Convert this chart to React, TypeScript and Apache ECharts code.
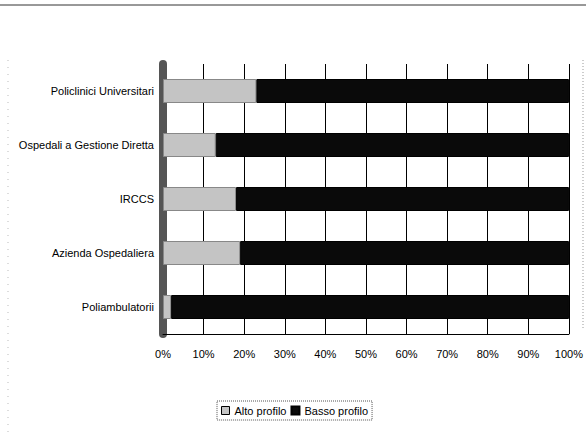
import React, { useEffect, useRef } from "react";
import * as echarts from "echarts";

const categories = ["Poliambulatorii", "Azienda Ospedaliera", "IRCCS", "Ospedali a Gestione Diretta", "Policlinici Universitari"];
const altoProfilo = [2, 19, 18, 13, 23];
const bassoProfilo = [98, 81, 82, 87, 77];
const xTicks = [0, 10, 20, 30, 40, 50, 60, 70, 80, 90, 100];

const FONT = "'Liberation Sans Narrow', 'Liberation Sans', Arial, sans-serif";

export default function App() {
  const ref = useRef<HTMLDivElement>(null);
  useEffect(() => {
    if (!ref.current) return;
    const chart = echarts.init(ref.current, undefined, { renderer: "svg" });
    chart.setOption({
      animation: false,
      backgroundColor: "#ffffff",
      textStyle: { fontFamily: FONT },
      grid: { left: 163, right: 13, top: 64, bottom: 100 },
      xAxis: {
        type: "value",
        min: xTicks[0],
        max: xTicks[xTicks.length - 1],
        interval: 10,
        axisLine: { show: true, lineStyle: { color: "#000", width: 1 } },
        axisTick: { show: false },
        axisLabel: { formatter: "{value}%", color: "#000", fontSize: 11, fontFamily: FONT, margin: 14 },
        splitLine: { show: true, lineStyle: { color: "#000", width: 1 } },
      },
      yAxis: {
        type: "category",
        data: categories,
        axisLine: { show: true, lineStyle: { color: "#555", width: 8 } },
        axisTick: { show: false },
        axisLabel: { color: "#000", fontSize: 11, fontFamily: FONT, margin: 9 },
        splitLine: { show: false },
      },
      legend: {
        bottom: 14,
        left: 217,
        itemWidth: 8,
        itemHeight: 8,
        itemGap: 4,
        padding: [4, 4],
        borderColor: "#555",
        borderWidth: 1,
        borderType: "dotted",
        textStyle: { color: "#000", fontSize: 11, fontFamily: FONT },
        data: [
          { name: "Alto profilo", icon: "rect", itemStyle: { borderColor: "#000", borderWidth: 1 } },
          { name: "Basso profilo", icon: "rect" },
        ],
      },
      graphic: [
        { type: "line", shape: { x1: 0, y1: 5, x2: 586, y2: 5 }, style: { stroke: "#333", lineWidth: 1 } },
        { type: "line", shape: { x1: 8, y1: 60, x2: 8, y2: 434 }, style: { stroke: "#bbb", lineWidth: 1, lineDash: [1, 6] } },
        { type: "line", shape: { x1: 583, y1: 60, x2: 583, y2: 330 }, style: { stroke: "#999", lineWidth: 1, lineDash: [1, 2] } },
      ],
      series: [
        {
          name: "Alto profilo",
          type: "bar",
          stack: "tot",
          data: altoProfilo,
          barWidth: 24,
          itemStyle: { color: "#c4c4c4", borderColor: "#888", borderWidth: 1 },
        },
        {
          name: "Basso profilo",
          type: "bar",
          stack: "tot",
          data: bassoProfilo,
          barWidth: 24,
          itemStyle: { color: "#0a0a0a", borderColor: "#000", borderWidth: 1 },
        },
      ],
    });
    return () => chart.dispose();
  }, []);
  return <div ref={ref} style={{ width: 586, height: 434, position: "absolute", left: 0, top: 0 }} />;
}
